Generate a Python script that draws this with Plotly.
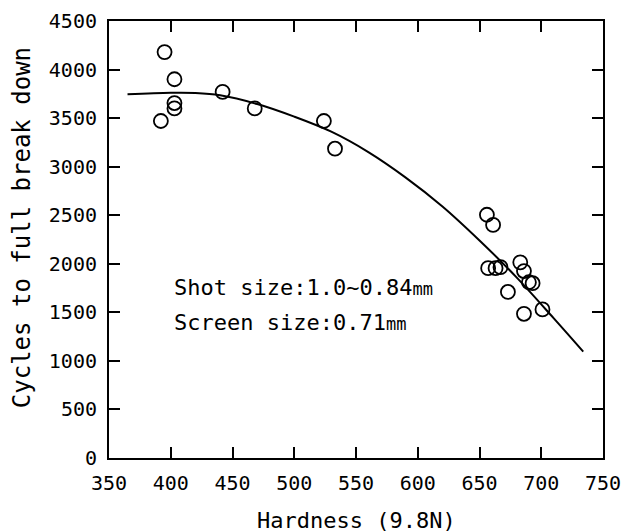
import plotly.graph_objects as go

# Measured points (Hardness, Cycles to full break down)
hardness = [395, 392, 403, 403, 403, 442, 468, 524, 533,
            656, 661, 657, 663, 667, 683, 686, 690, 693, 673, 686, 701]
cycles = [4180, 3470, 3900, 3655, 3600, 3770, 3600, 3470, 3185,
          2505, 2400, 1955, 1955, 1965, 2015, 1925, 1810, 1800, 1710, 1485, 1530]

# Fitted curve
curve_x = [365, 400, 420, 440, 470, 500, 530, 560, 590, 620, 650, 680, 710, 734]
curve_y = [3745, 3760, 3758, 3735, 3645, 3515, 3360, 3150, 2890, 2590, 2240, 1860, 1440, 1095]

x_ticks = [350, 400, 450, 500, 550, 600, 650, 700, 750]
y_ticks = [0, 500, 1000, 1500, 2000, 2500, 3000, 3500, 4000, 4500]

x_title = "Hardness (9.8N)"
y_title = "Cycles to full break down"

FONT = "DejaVu Sans Mono"

fig = go.Figure()
fig.add_trace(go.Scatter(x=curve_x, y=curve_y, mode="lines",
                         line=dict(color="black", width=2, shape="spline", smoothing=1),
                         showlegend=False, hoverinfo="skip"))
fig.add_trace(go.Scatter(x=hardness, y=cycles, mode="markers",
                         marker=dict(symbol="circle-open", size=14, color="black",
                                     line=dict(width=1.8, color="black")),
                         showlegend=False))

axis_common = dict(showline=True, linecolor="black", linewidth=2, mirror="ticks",
                   ticks="inside", ticklen=11, tickwidth=1.5, tickcolor="black",
                   showgrid=False, zeroline=False, automargin=False,
                   tickfont=dict(family=FONT, size=20, color="black"))

fig.update_xaxes(range=[350, 750], tickvals=x_ticks, ticktext=[str(v) for v in x_ticks],
                 ticklabelstandoff=6, **axis_common)
fig.update_yaxes(range=[0, 4500], tickvals=y_ticks, ticktext=[str(v) for v in y_ticks],
                 ticklabelstandoff=6, **axis_common)

fig.add_annotation(x=0.5, y=-0.1426, xref="paper", yref="paper", xanchor="center", yanchor="middle",
                   text=x_title, showarrow=False, font=dict(family=FONT, size=22, color="black"))
fig.add_annotation(x=-0.176, y=0.526, xref="paper", yref="paper", xanchor="center", yanchor="middle",
                   text=y_title, textangle=-90, showarrow=False,
                   font=dict(family=FONT, size=24, color="black"))

fig.add_annotation(x=0.128, y=0.39, xref="paper", yref="paper", xanchor="left", yanchor="middle",
                   text="Shot size:1.0~0.84<span style='font-size:17px'>mm</span>",
                   showarrow=False, font=dict(family=FONT, size=22, color="black"))
fig.add_annotation(x=0.128, y=0.31, xref="paper", yref="paper", xanchor="left", yanchor="middle",
                   text="Screen size:0.71<span style='font-size:17px'>mm</span>",
                   showarrow=False, font=dict(family=FONT, size=22, color="black"))

fig.update_layout(width=636, height=532, margin=dict(l=109, r=33, t=21, b=74),
                  plot_bgcolor="white", paper_bgcolor="white")

fig.write_html("out.html")
